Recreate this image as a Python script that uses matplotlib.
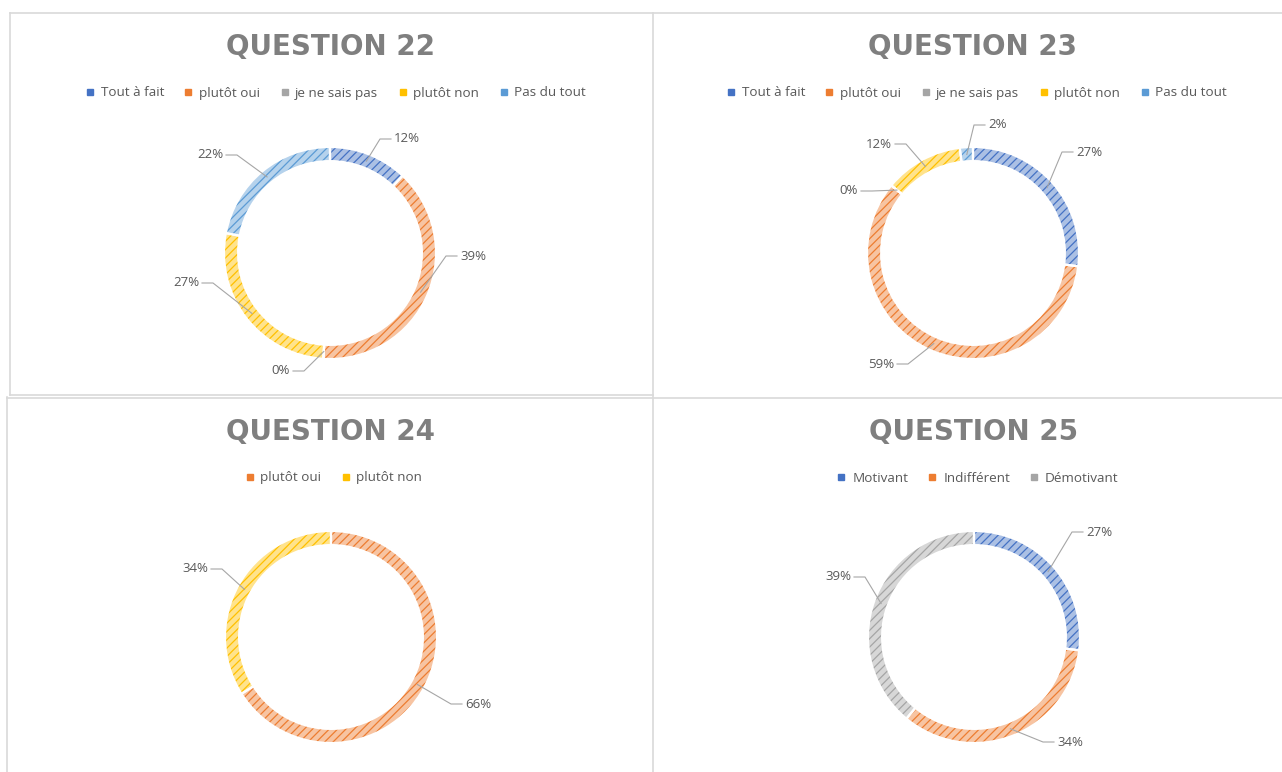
import matplotlib
matplotlib.use('Agg')
import matplotlib.pyplot as plt
from matplotlib.lines import Line2D
from matplotlib.colors import to_rgb
import numpy as np

plt.rcParams['font.family'] = ['Open Sans', 'DejaVu Sans']
plt.rcParams['hatch.linewidth'] = 0.9

W, H = 1282, 772
R = 105  # rayon exterieur en px

# donnees
answers5 = ['Tout à fait', 'plutôt oui', 'je ne sais pas', 'plutôt non', 'Pas du tout']
q22_values = [12, 39, 0, 27, 22]
q23_values = [27, 59, 0, 12, 2]
answers2 = ['plutôt oui', 'plutôt non']
q24_values = [66, 34]
answers3 = ['Motivant', 'Indifférent', 'Démotivant']
q25_values = [27, 34, 39]

colors5 = ['#4472C4', '#ED7D31', '#A5A5A5', '#FFC000', '#5B9BD5']
colors2 = ['#ED7D31', '#FFC000']
colors3 = ['#4472C4', '#ED7D31', '#A5A5A5']

TEXT = '#595959'
TITLE = '#7F7F7F'
GRID = '#D9D9D9'


def tint(c, f=0.55):
	r, g, b = to_rgb(c)
	return (r + (1 - r) * f, g + (1 - g) * f, b + (1 - b) * f)


def donut(fig, cx, cy, values, colors, label_pos):
	ax = fig.add_axes([(cx - 230) / W, 1 - (cy + 150) / H, 460 / W, 300 / H])
	wedges, _ = ax.pie(values, colors=[tint(c) for c in colors], startangle=90, counterclock=False,
	                   radius=1.01, wedgeprops=dict(width=0.135, linewidth=0))
	for w, c in zip(wedges, colors):
		w.set_edgecolor(c)
		w.set_hatch('////')
	ax.pie(values, colors=['none'] * len(values), startangle=90, counterclock=False,
	       radius=1.01, wedgeprops=dict(width=0.135, edgecolor='white', linewidth=1.6))
	ax.set_xlim(-230 / R, 230 / R)
	ax.set_ylim(-150 / R, 150 / R)
	ax.axis('off')

	total = sum(values)
	cum = 0
	for v, (dx, dy, side) in zip(values, label_pos):
		mid = 90 - 360 * (cum + v / 2) / total
		cum += v
		rm = 0.94
		px = rm * np.cos(np.radians(mid))
		py = rm * np.sin(np.radians(mid))
		tx, ty = dx / R, -dy / R
		s = 1 if side == 'left' else -1
		ax.plot([px, tx - s * 14 / R, tx - s * 3 / R], [py, ty, ty], color='#A6A6A6', lw=0.8)
		ax.text(tx, ty, f'{v}%', ha=side, va='center', fontsize=9.5, color=TEXT)


def title(fig, x, y, txt):
	fig.text(x / W, 1 - y / H, txt, ha='center', va='center', fontsize=20, fontweight='bold',
	         color=TITLE, family='DejaVu Sans')


def legend(fig, x, y, labels, colors):
	handles = [Line2D([], [], marker='s', linestyle='', markersize=4.5, color=c) for c in colors]
	fig.legend(handles, labels, loc='center', bbox_to_anchor=(x / W, 1 - y / H), ncol=len(labels),
	           frameon=False, fontsize=9.7, handlelength=0.6, handletextpad=0.5, columnspacing=1.5,
	           labelcolor=TEXT)


def line(fig, x0, y0, x1, y1, lw=1.2):
	fig.add_artist(Line2D([x0 / W, x1 / W], [1 - y0 / H, 1 - y1 / H], transform=fig.transFigure,
	                      color=GRID, lw=lw))


fig = plt.figure(figsize=(W / 100, H / 100), dpi=100)

# cadres
line(fig, 10, 13, 1282, 13)
line(fig, 10, 13, 10, 395)
line(fig, 10, 395, 653, 395)
line(fig, 653, 13, 653, 772)
line(fig, 7, 397, 7, 772)
line(fig, 7, 397.5, 1282, 397.5)

title(fig, 331, 47, 'QUESTION 22')
legend(fig, 336, 93, answers5, colors5)
donut(fig, 330, 253, q22_values, colors5,
      [(64, -114, 'left'), (130, 3, 'left'), (-40, 118, 'right'), (-131, 30, 'right'), (-107, -98, 'right')])

title(fig, 973, 47, 'QUESTION 23')
legend(fig, 977, 93, answers5, colors5)
donut(fig, 973, 253, q23_values, colors5,
      [(103, -101, 'left'), (-79, 111, 'right'), (-115, -62, 'right'), (-81, -109, 'right'), (15, -128, 'left')])

title(fig, 331, 432, 'QUESTION 24')
legend(fig, 334, 478, answers2, colors2)
donut(fig, 331, 637, q24_values, colors2,
      [(134, 67, 'left'), (-123, -68, 'right')])

title(fig, 974, 432, 'QUESTION 25')
legend(fig, 978, 478, answers3, colors3)
donut(fig, 974, 637, q25_values, colors3,
      [(112, -105, 'left'), (83, 105, 'left'), (-123, -60, 'right')])

fig.savefig('out.png', dpi=100)
